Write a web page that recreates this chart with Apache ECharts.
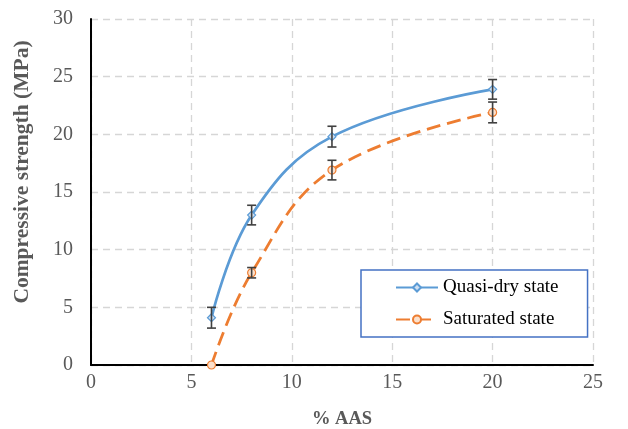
<!DOCTYPE html>
<html lang="en">
    <head>
        <meta charset="UTF-8">
        <title>Compressive strength vs AAS</title>
        <style>
            *{ margin: 0; padding: 0; }
            body{ background: #fff; }
            #chart{ width: 628px; height: 429px; }
        </style>
        <script src="https://cdn.jsdelivr.net/npm/echarts@6/dist/echarts.min.js"></script>
    </head>
    <body>
        <div id="chart"></div>
        <script>
            // data
            var aas = [6, 8, 12, 20];
            var quasiDry = [4.1, 13.0, 19.8, 23.9];
            var quasiDryErr = [0.9, 0.85, 0.9, 0.85];
            var saturated = [0, 8.0, 16.9, 21.9];
            var saturatedErr = [0, 0.45, 0.85, 0.9];

            var blue = '#5B9BD5';
            var orange = '#ED7D31';
            var serif = '"Liberation Serif", "DejaVu Serif", serif';

            function pairs(ys){
                return aas.map(function(x, i){ return [x, ys[i]]; });
            }
            function errData(ys, es){
                var out = [];
                aas.forEach(function(x, i){
                    if (es[i] > 0) out.push([x, ys[i] - es[i], ys[i] + es[i]]);
                });
                return out;
            }

            // draws one error bar with caps
            function renderErr(params, api){
                var lo = api.coord([api.value(0), api.value(1)]);
                var hi = api.coord([api.value(0), api.value(2)]);
                var w = 4.5;
                var st = { stroke: '#404040', lineWidth: 1.6 };
                return {
                    type: 'group',
                    children: [
                        { type: 'line', shape: { x1: lo[0], y1: lo[1], x2: hi[0], y2: hi[1] }, style: st },
                        { type: 'line', shape: { x1: lo[0] - w, y1: lo[1], x2: lo[0] + w, y2: lo[1] }, style: st },
                        { type: 'line', shape: { x1: hi[0] - w, y1: hi[1], x2: hi[0] + w, y2: hi[1] }, style: st }
                    ]
                };
            }

            var chart = echarts.init(document.getElementById('chart'));
            var gridLine = { show: true, lineStyle: { color: '#d6d6d6', type: [7, 5], width: 1.3 } };
            var option = {
                animation: false,
                grid: { left: 91, right: 35, top: 19, bottom: 64, containLabel: false, outerBoundsMode: 'none' },
                // y axis title, a bit above the middle like the original
                graphic: [{
                    type: 'text',
                    x: 22,
                    y: 172,
                    rotation: Math.PI / 2,
                    style: {
                        text: 'Compressive strength (MPa)',
                        font: 'bold 21.5px ' + serif,
                        fill: '#595959',
                        align: 'center',
                        verticalAlign: 'middle'
                    }
                }],
                legend: {
                    orient: 'vertical',
                    left: 361,
                    top: 270,
                    padding: [8, 29, 8, 34],
                    itemGap: 13,
                    itemWidth: 42,
                    itemHeight: 10,
                    borderColor: '#4472C4',
                    borderWidth: 1.5,
                    backgroundColor: '#fff',
                    textStyle: { fontFamily: serif, fontSize: 19, color: '#000' },
                    data: ['Quasi-dry state', 'Saturated state']
                },
                xAxis: {
                    type: 'value',
                    min: 0,
                    max: 25,
                    interval: 5,
                    name: '% AAS',
                    nameLocation: 'middle',
                    nameGap: 45,
                    nameTextStyle: { fontFamily: serif, fontSize: 18.5, fontWeight: 'bold', color: '#595959' },
                    axisLine: { show: true, lineStyle: { color: '#000', width: 2 } },
                    axisTick: { show: false },
                    axisLabel: { fontFamily: serif, fontSize: 20, color: '#595959', margin: 8 },
                    splitLine: gridLine
                },
                yAxis: {
                    type: 'value',
                    min: 0,
                    max: 30,
                    interval: 5,
                    axisLine: { show: true, lineStyle: { color: '#000', width: 2 } },
                    axisTick: { show: false },
                    axisLabel: { fontFamily: serif, fontSize: 20, color: '#595959', margin: 18 },
                    splitLine: gridLine
                },
                series: [
                    {
                        name: 'Quasi-dry state',
                        type: 'line',
                        smooth: 0.4,
                        symbol: 'diamond',
                        symbolSize: 8,
                        itemStyle: { color: '#cfe0f3', borderColor: blue, borderWidth: 1.2 },
                        lineStyle: { color: blue, width: 2.7 },
                        data: pairs(quasiDry),
                        z: 3
                    },
                    {
                        name: 'Saturated state',
                        type: 'line',
                        smooth: 0.4,
                        symbol: 'circle',
                        symbolSize: 8,
                        itemStyle: { color: '#fbe0cc', borderColor: orange, borderWidth: 1.2 },
                        lineStyle: { color: orange, width: 2.8, type: [14, 7] },
                        data: pairs(saturated),
                        z: 3
                    },
                    {
                        type: 'custom',
                        renderItem: renderErr,
                        data: errData(quasiDry, quasiDryErr),
                        z: 4
                    },
                    {
                        type: 'custom',
                        renderItem: renderErr,
                        data: errData(saturated, saturatedErr),
                        z: 4
                    }
                ]
            };
            chart.setOption(option);
        </script>
    </body>
</html>
